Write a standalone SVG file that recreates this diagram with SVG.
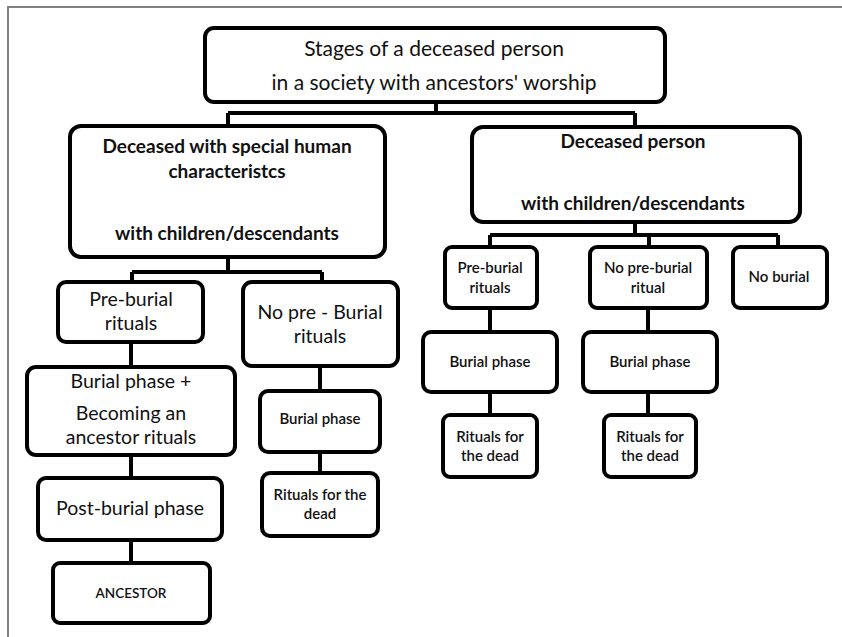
<svg xmlns="http://www.w3.org/2000/svg" width="842" height="637" viewBox="0 0 842 637">
<style>
.box{fill:#fff;stroke:#000;stroke-width:4}
.con{fill:none;stroke:#000;stroke-width:4}
text{font-family:Lato,"Open Sans","Liberation Sans",sans-serif;fill:#111;text-anchor:middle}
.big{font-size:19.5px}
.top{font-size:21px}
.bold{font-size:19px;font-weight:bold}
.sm{font-size:15px;font-weight:600}
.anc{font-size:13.5px;font-weight:600}
</style>
<rect x="0" y="0" width="842" height="637" fill="#fff"/>
<path d="M8 637 V7 H842" fill="none" stroke="#808080" stroke-width="2"/>
<g id="connectors">
<path class="con" d="M436 102 V113 M228 113 H635 M228 113 V126 M635 113 V127"/>
<path class="con" d="M228 257 V272 M132 272 H322 M132 272 V282 M322 272 V282"/>
<path class="con" d="M131 342 V367 M131 455 V478 M131 540 V563"/>
<path class="con" d="M320 366 V391 M320 452 V473"/>
<path class="con" d="M635 222 V235 M490 235 H778 M490 235 V247 M649 235 V247 M778 235 V247"/>
<path class="con" d="M490 308 V332 M490 392 V415"/>
<path class="con" d="M648 308 V332 M648 392 V415"/>
</g>
<g id="root">
<rect class="box" x="205" y="28" width="460" height="74" rx="9"/>
<text class="top" x="434" y="56">Stages of a deceased person</text>
<text class="top" x="434" y="90">in a society with ancestors' worship</text>
</g>
<g id="special">
<rect class="box" x="70" y="126" width="315" height="131" rx="11"/>
<text class="bold" x="227" y="153">Deceased with special human</text>
<text class="bold" x="227" y="178">characteristcs</text>
<text class="bold" x="227" y="240">with children/descendants</text>
</g>
<g id="person">
<rect class="box" x="472" y="127" width="328" height="95" rx="11"/>
<text class="bold" x="633" y="148">Deceased person</text>
<text class="bold" x="633" y="210">with children/descendants</text>
</g>
<g id="l-preburial">
<rect class="box" x="58" y="282" width="145" height="60" rx="8"/>
<text class="big" x="131" y="306">Pre-burial</text>
<text class="big" x="131" y="330">rituals</text>
</g>
<g id="l-nopreburial">
<rect class="box" x="243" y="282" width="155" height="84" rx="9"/>
<text class="big" x="320" y="319">No  pre - Burial</text>
<text class="big" x="320" y="343">rituals</text>
</g>
<g id="l-burialplus">
<rect class="box" x="27" y="367" width="208" height="88" rx="9"/>
<text class="big" x="131" y="388">Burial phase +</text>
<text class="big" x="131" y="420">Becoming an</text>
<text class="big" x="131" y="444">ancestor rituals</text>
</g>
<g id="l-postburial">
<rect class="box" x="38" y="478" width="184" height="62" rx="8"/>
<text class="big" x="130" y="515">Post-burial phase</text>
</g>
<g id="l-ancestor">
<rect class="box" x="53" y="563" width="157" height="60" rx="7"/>
<text class="anc" x="131" y="598">ANCESTOR</text>
</g>
<g id="l-burial">
<rect class="box" x="260" y="391" width="120" height="61" rx="8"/>
<text class="sm" x="320" y="424">Burial phase</text>
</g>
<g id="l-rituals">
<rect class="box" x="262" y="473" width="116" height="63" rx="8"/>
<text class="sm" x="320" y="500">Rituals for the</text>
<text class="sm" x="320" y="519">dead</text>
</g>
<g id="r-preburial">
<rect class="box" x="445" y="247" width="92" height="61" rx="7"/>
<text class="sm" x="490" y="273">Pre-burial</text>
<text class="sm" x="490" y="293">rituals</text>
</g>
<g id="r-nopreburial">
<rect class="box" x="590" y="247" width="117" height="61" rx="7"/>
<text class="sm" x="648" y="273">No pre-burial</text>
<text class="sm" x="648" y="293">ritual</text>
</g>
<g id="r-noburial">
<rect class="box" x="733" y="247" width="94" height="61" rx="7"/>
<text class="sm" x="779" y="282">No burial</text>
</g>
<g id="r-burial1">
<rect class="box" x="423" y="332" width="134" height="60" rx="8"/>
<text class="sm" x="490" y="367">Burial phase</text>
</g>
<g id="r-burial2">
<rect class="box" x="583" y="332" width="134" height="60" rx="8"/>
<text class="sm" x="650" y="367">Burial phase</text>
</g>
<g id="r-rituals1">
<rect class="box" x="443" y="415" width="94" height="62" rx="7"/>
<text class="sm" x="490" y="442">Rituals for</text>
<text class="sm" x="490" y="461">the dead</text>
</g>
<g id="r-rituals2">
<rect class="box" x="604" y="415" width="92" height="62" rx="7"/>
<text class="sm" x="650" y="442">Rituals for</text>
<text class="sm" x="650" y="461">the dead</text>
</g>
</svg>
